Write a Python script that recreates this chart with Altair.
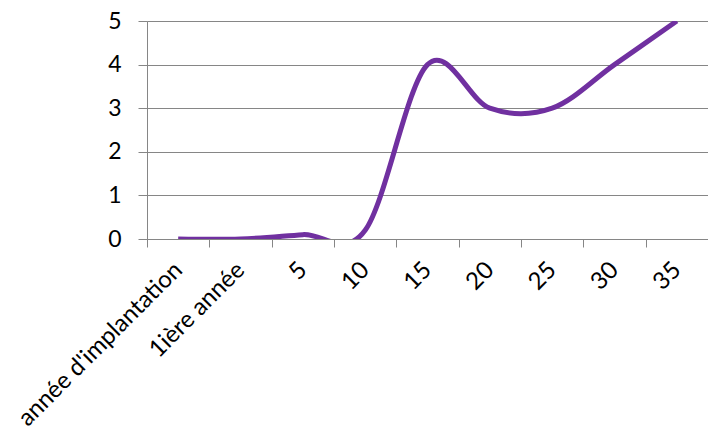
import altair as alt
import pandas as pd

categories = ["année d'implantation", "1ière année", "5", "10", "15", "20", "25", "30", "35"]
values = [0, 0, 0.1, 0.2, 4, 3, 3, 4, 5]
y_ticks = [0, 1, 2, 3, 4, 5]

df = pd.DataFrame({"cat": categories, "val": values})

GRAY = "#868686"
FONT = "Lato"

chart = (
    alt.Chart(df)
    .mark_line(interpolate="cardinal", color="#7030A0", strokeWidth=5, clip=True)
    .encode(
        x=alt.X(
            "cat:N",
            sort=categories,
            bandPosition=0.5,
            scale=alt.Scale(type="band", paddingInner=0, paddingOuter=0),
            axis=alt.Axis(
                title=None,
                tickBand="extent",
                labelAngle=-45,
                labelAlign="right",
                labelBaseline="middle",
                labelPadding=19,
                labelFont=FONT,
                labelFontSize=24,
                labelColor="#000000",
                labelLimit=0,
                tickSize=8,
                tickColor=GRAY,
                domainColor=GRAY,
                grid=False,
                labelOverlap=False,
            ),
        ),
        y=alt.Y(
            "val:Q",
            scale=alt.Scale(domain=[0, 5], nice=False, zero=True),
            axis=alt.Axis(
                title=None,
                values=y_ticks,
                format="d",
                labelFont=FONT,
                labelFontSize=23,
                labelColor="#000000",
                labelPadding=17,
                tickSize=9,
                tickColor=GRAY,
                domainColor=GRAY,
                grid=True,
                gridColor=GRAY,
                gridWidth=1,
                gridOpacity=1,
            ),
        ),
    )
    .properties(
        width=561,
        height=218,
        autosize=alt.AutoSizeParams(type="none"),
        padding={"left": 139, "top": 13, "right": 0, "bottom": 202},
    )
    .configure_view(stroke=None)
    .configure(background="white")
)

chart.save("out.html", embed_options={"renderer": "svg", "actions": False})
